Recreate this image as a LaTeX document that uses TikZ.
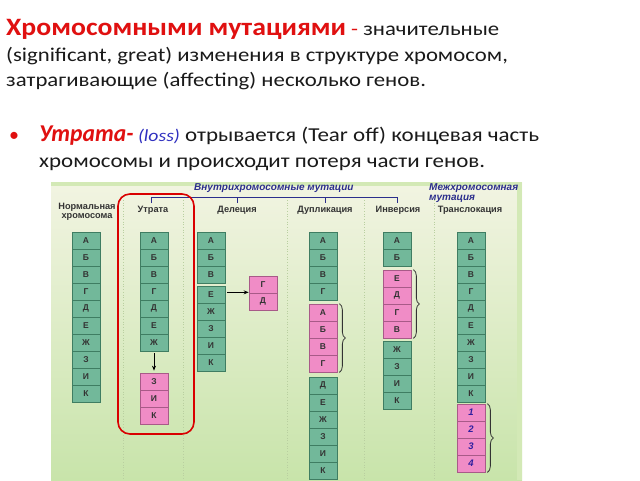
\documentclass[tikz,border=0pt]{standalone}
\usepackage{fontspec}
\usepackage{graphicx}
\setmainfont{Carlito}
\newfontfamily\dfont{Liberation Sans}
\usetikzlibrary{arrows.meta,decorations.pathreplacing}
\definecolor{gfill}{HTML}{72B89A}
\definecolor{gborder}{HTML}{3F7D62}
\definecolor{pfill}{HTML}{F08CC6}
\definecolor{pborder}{HTML}{A85A88}
\definecolor{hdrblue}{HTML}{2B2E8C}
\definecolor{lossblue}{HTML}{3030C0}
\definecolor{titlered}{HTML}{E01010}
\definecolor{bodyblack}{HTML}{1A1A1A}
\definecolor{txtgray}{HTML}{333333}
\definecolor{panTop}{HTML}{F2F4E2}
\definecolor{panBot}{HTML}{C8E4AA}
\definecolor{panEdge}{HTML}{D3E9B6}
\definecolor{sepcol}{HTML}{B9CFA0}
\definecolor{numblue}{HTML}{3020A0}
\newcommand\sx[2]{\scalebox{#1}[1]{#2}}
\newcommand\fs[1]{\fontsize{#1}{#1}\selectfont}
\tikzset{
  gbox/.style={draw=gborder, line width=0.7pt, fill=gfill, minimum width=28pt, minimum height=17pt, inner sep=0pt, text=txtgray, font=\dfont\bfseries\fontsize{8.5}{9}\selectfont},
  pbox/.style={gbox, draw=pborder, fill=pfill},
  numbox/.style={pbox, text=numblue, font=\dfont\bfseries\itshape\fontsize{9.5}{10}\selectfont},
  colhdr/.style={text=txtgray, font=\dfont\bfseries\fontsize{9.2}{10}\selectfont, align=center},
  bluehdr/.style={text=hdrblue, font=\dfont\bfseries\itshape\fontsize{10}{11}\selectfont, align=left},
  arr/.style={-{Stealth[length=5pt,width=4pt]}, line width=0.8pt, black},
  br/.style={decorate, decoration={brace, amplitude=6pt}, line width=0.8pt, black!80},
  sep/.style={sepcol, dotted, line width=0.7pt},
  tline/.style={text=bodyblack, anchor=base west, inner sep=0pt},
}
\newcommand\chain[5]{%
  \foreach \t [count=\i] in {#5} {\node[#4] (#1\i) at (#2,{#3+17*\i-8.5}) {\t};}}
\begin{document}
\begin{tikzpicture}[x=1pt,y=-1pt]
\fill[white] (0,0) rectangle (640,480);
\useasboundingbox (0,0) rectangle (640,480);
% text
\node[tline] (l1) at (6,35) {\sx{1.11}{\fs{25}\bfseries\color{titlered}Хромосомными мутациями}\sx{1.165}{\fs{19.5}\color{titlered}\ -\ \color{bodyblack}значительные}};
\node[tline] (l2) at (6,61.5) {\sx{1.165}{\fs{19.5}(significant, great) изменения в структуре хромосом,}};
\node[tline] (l3) at (6,86.5) {\sx{1.168}{\fs{19.5}затрагивающие (affecting) несколько генов.}};
\node[tline, text=titlered] (bul) at (9,141) {\fs{20}•};
\node[tline] (b1) at (39,141) {\scalebox{1.12}[1.15]{\fs{21}\bfseries\itshape\color{titlered}Утрата-}\sx{1.16}{\fs{17}\itshape\color{lossblue}\ (loss)}\sx{1.168}{\fs{19.7}\ отрывается (Tear off) концевая часть}};
\node[tline] (b2) at (39,167) {\sx{1.165}{\fs{19.7}хромосомы и происходит потеря части генов.}};
% panel
\shade[top color=panTop, bottom color=panBot] (51,182) rectangle (522,480);
\fill[panEdge] (51,182) rectangle (522,186);
\fill[panEdge] (517,182) rectangle (522,480);
\foreach \x in {123,183,287,364,434} \draw[sep] (\x,200) -- (\x,480);
% headers
\node[bluehdr, anchor=west, inner sep=0pt] (intra) at (194,188) {Внутрихромосомные мутации};
\node[bluehdr, anchor=north west, inner sep=0pt] (inter) at (429,183) {Межхромосомная\\[-1pt]мутация};
\draw[hdrblue, line width=0.8pt] (151,203) -- (151,197) -- (397,197) -- (397,203);
\draw[hdrblue, line width=0.8pt] (237,197) -- (237,203);
\draw[hdrblue, line width=0.8pt] (325,197) -- (325,203);
\node[colhdr] (hn) at (87,212) {Нормальная\\[-1pt]хромосома};
\node[colhdr] (hu) at (153,210) {Утрата};
\node[colhdr] (hd) at (237,210) {Делеция};
\node[colhdr] (hdu) at (325,210) {Дупликация};
\node[colhdr] (hi) at (398,210) {Инверсия};
\node[colhdr] (ht) at (470,210) {Транслокация};
% chromosomes
\chain{n}{86}{232}{gbox}{А,Б,В,Г,Д,Е,Ж,З,И,К}
\chain{u}{154}{232}{gbox}{А,Б,В,Г,Д,Е,Ж}
\chain{up}{154}{373}{pbox}{З,И,К}
\chain{d}{211}{232}{gbox}{А,Б,В}
\chain{de}{211}{286}{gbox}{Е,Ж,З,И,К}
\chain{dp}{263}{276}{pbox}{Г,Д}
\chain{du}{323}{232}{gbox}{А,Б,В,Г}
\chain{dup}{323}{304}{pbox}{А,Б,В,Г}
\chain{dd}{323}{377}{gbox}{Д,Е,Ж,З,И,К}
\chain{i}{397}{232}{gbox}{А,Б}
\chain{ip}{397}{270}{pbox}{Е,Д,Г,В}
\chain{ie}{397}{341}{gbox}{Ж,З,И,К}
\chain{t}{471}{232}{gbox}{А,Б,В,Г,Д,Е,Ж,З,И,К}
\chain{tp}{471}{404}{numbox}{1,2,3,4}
% arrows
\draw[arr] ([yshift=-2pt]u7.south) -- ([yshift=2pt]up1.north);
\coordinate (dstart) at ([xshift=2pt]dp1.south west -| d3.east);
\draw[arr] ([yshift=1pt]dstart) -- ([yshift=1pt]dp1.south west);
% braces
\draw[br] ([xshift=2pt]dup1.north east) -- ([xshift=2pt]dup4.south east);
\draw[br] ([xshift=2pt]ip1.north east) -- ([xshift=2pt]ip4.south east);
\draw[br] ([xshift=2pt]tp1.north east) -- ([xshift=2pt]tp4.south east);
% highlight
\draw[red!85!black, line width=1.6pt, rounded corners=12pt] (118,194) rectangle (194,434);
\end{tikzpicture}
\end{document}
